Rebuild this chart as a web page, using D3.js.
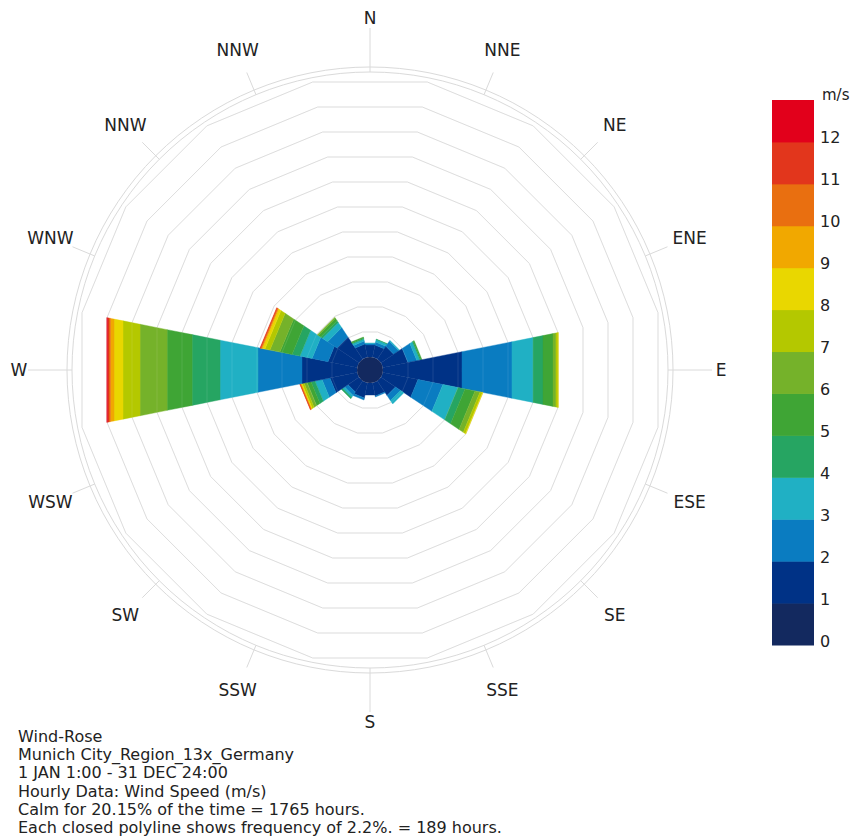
<!DOCTYPE html>
<html>
<head>
<meta charset="utf-8">
<script src="https://cdn.jsdelivr.net/npm/d3@7"></script>
<style>
  html, body { margin: 0; padding: 0; background: #ffffff; }
  svg { display: block; font-family: "DejaVu Sans", Verdana, sans-serif; }
</style>
</head>
<body>
<svg id="chart" width="854" height="840"></svg>
<script>
// ---- DATA ----
const directions = ["N","NNE","NE","ENE","E","ESE","SE","SSE","S","SSW","SW","WSW","W","WNW","NW","NNW"];
const directionLabels = ["N","NNE","NE","ENE","E","ESE","SE","SSE","S","SSW","SW","WSW","W","WNW","NNW","NNW"];
const speedTicks = ["0","1","2","3","4","5","6","7","8","9","10","11","12"];
const speedColors = ["#13295f","#003286","#0a7cc1","#20b0c4","#26a562","#3fa535","#75b22a","#b4c800","#e9d700","#f1a800","#e96f10","#e2361c","#e2001b"];
// frequency (%) per direction, one array per speed bin
const freq1to2   = [1.06,1.06,1.32,2.20,6.95,3.08,1.50,1.14,1.06,1.32,1.14,2.38,4.84,2.55,2.29,1.14];
const freq2to3   = [0.13,0.26,0.53,0.79,4.40,2.20,0.53,0.09,0.00,0.18,0.35,0.70,3.87,1.41,0.97,0.26];
const freq3to4   = [0.04,0.22,0.09,0.26,1.85,1.32,0.35,0.00,0.00,0.00,0.22,0.62,3.34,1.06,0.53,0.18];
const freq4to5   = [0.00,0.04,0.00,0.09,0.88,0.62,0.00,0.00,0.00,0.00,0.13,0.35,2.46,0.70,0.18,0.09];
const freq5to6   = [0.00,0.00,0.00,0.09,0.88,0.88,0.00,0.00,0.00,0.00,0.00,0.35,2.20,1.06,0.26,0.09];
const freq6to7   = [0.00,0.00,0.00,0.00,0.26,0.44,0.00,0.00,0.00,0.00,0.00,0.26,2.38,0.88,0.09,0.00];
const freq7to8   = [0.00,0.00,0.00,0.00,0.18,0.22,0.00,0.00,0.00,0.00,0.00,0.18,1.50,0.44,0.00,0.00];
const freq8to9   = [0.00,0.00,0.00,0.00,0.02,0.04,0.00,0.00,0.00,0.00,0.00,0.09,0.79,0.22,0.00,0.00];
const freq9to10  = [0.00,0.00,0.00,0.00,0.00,0.00,0.00,0.00,0.00,0.00,0.00,0.04,0.31,0.09,0.00,0.00];
const freq10to11 = [0.00,0.00,0.00,0.00,0.00,0.00,0.00,0.00,0.00,0.00,0.00,0.04,0.13,0.07,0.00,0.00];
const freq11to12 = [0.00,0.00,0.00,0.00,0.00,0.00,0.00,0.00,0.00,0.00,0.00,0.03,0.13,0.06,0.00,0.00];
const freq12plus = [0.00,0.00,0.00,0.00,0.00,0.00,0.00,0.00,0.00,0.00,0.00,0.00,0.07,0.00,0.00,0.00];
const ringStep = 2.2;      // % per closed polyline
const ringCount = 11;
const infoLines = [
  "Wind-Rose",
  "Munich City_Region_13x_Germany",
  "1 JAN 1:00 - 31 DEC 24:00",
  "Hourly Data: Wind Speed (m/s)",
  "Calm for 20.15% of the time = 1765 hours.",
  "Each closed polyline shows frequency of 2.2%. = 189 hours."
];

// ---- LAYOUT ----
const series = [freq1to2,freq2to3,freq3to4,freq4to5,freq5to6,freq6to7,freq7to8,freq8to9,freq9to10,freq10to11,freq11to12,freq12plus];
const svg = d3.select("#chart");
const cx = 370, cy = 370;
const calmR = 13;
const r = d3.scaleLinear().domain([0, ringStep * ringCount]).range([calmR, 288]);
const half = Math.PI / 16;              // half sector width (11.25deg)
const k = 1 / Math.cos(half);
const ang = d3.scaleLinear().domain([0, 16]).range([0, 2 * Math.PI]);
const g = svg.append("g").attr("transform", `translate(${cx},${cy})`);
const gridColor = "#dadada";

// polygon grid
const polyLine = d3.lineRadial().angle(d => d[0]).radius(d => d[1]).curve(d3.curveLinearClosed);
function ringPts(v) {
  return d3.range(16).map(j => [ang(j) + half, r(v) * k]);
}
const ringVals = d3.range(1, ringCount + 1).map(i => i * ringStep);
g.selectAll("path.ring").data(ringVals).join("path")
  .attr("class", "ring")
  .attr("d", v => polyLine(ringPts(v)))
  .attr("fill", "none").attr("stroke", gridColor).attr("stroke-width", 1);

// outer circles
[298, 303].forEach(rad => g.append("circle").attr("r", rad)
  .attr("fill", "none").attr("stroke", gridColor).attr("stroke-width", 1));

// ticks and labels
directions.forEach((d, i) => {
  const a = ang(i);
  const cardinal = i % 4 === 0;
  const r1 = 298, r2 = cardinal ? 342 : 322;
  g.append("line")
    .attr("x1", r1 * Math.sin(a)).attr("y1", -r1 * Math.cos(a))
    .attr("x2", r2 * Math.sin(a)).attr("y2", -r2 * Math.cos(a))
    .attr("stroke", gridColor).attr("stroke-width", 1);
  const lr = (i % 8 === 0) ? 352 : (i % 8 === 4 ? 351 : 346);
  g.append("text")
    .attr("x", lr * Math.sin(a)).attr("y", -lr * Math.cos(a))
    .attr("text-anchor", "middle").attr("dominant-baseline", "central")
    .attr("font-size", 17).attr("fill", "#222")
    .text(directionLabels[i]);
});

// petals
const bands = [];
directions.forEach((d, i) => {
  let cum = 0;
  series.forEach((s, b) => {
    const v = s[i];
    if (v > 0) {
      bands.push({ dir: i, bin: b + 1, from: cum, to: cum + v });
      cum += v;
    }
  });
});
function bandPts(bd) {
  const a = ang(bd.dir);
  return [[a - half, r(bd.from) * k], [a + half, r(bd.from) * k],
          [a + half, r(bd.to) * k], [a - half, r(bd.to) * k]];
}
g.selectAll("path.band").data(bands).join("path")
  .attr("class", "band")
  .attr("d", bd => polyLine(bandPts(bd)))
  .attr("fill", bd => speedColors[bd.bin])
  .attr("stroke", bd => speedColors[bd.bin]).attr("stroke-width", 0.4);

// calm circle
g.append("circle").attr("r", calmR).attr("fill", speedColors[0]);

// faint grid visible through petals
g.selectAll("path.ringover").data(ringVals).join("path")
  .attr("class", "ringover")
  .attr("d", v => polyLine(ringPts(v)))
  .attr("fill", "none").attr("stroke", "#ffffff").attr("stroke-opacity", 0.1).attr("stroke-width", 1);

// legend
const lx = 772, lw = 42;
const ly = d3.scaleLinear().domain([0, speedColors.length]).range([645, 100]);
const lg = svg.append("g");
lg.selectAll("rect").data(speedColors).join("rect")
  .attr("x", lx).attr("width", lw)
  .attr("y", (c, i) => ly(i + 1)).attr("height", (c, i) => ly(i) - ly(i + 1) + 0.5)
  .attr("fill", c => c);
lg.selectAll("text.tick").data(speedTicks).join("text")
  .attr("class", "tick")
  .attr("x", lx + lw + 6).attr("y", (t, i) => ly(i) - 4)
  .attr("dominant-baseline", "central").attr("font-size", 16).attr("fill", "#222")
  .text(t => t);
lg.append("text").attr("x", lx + lw + 8).attr("y", 95)
  .attr("dominant-baseline", "central").attr("font-size", 15).attr("fill", "#222")
  .text("m/s");

// info text
svg.selectAll("text.info").data(infoLines).join("text")
  .attr("class", "info")
  .attr("x", 18).attr("y", (t, i) => 742 + i * 18.2)
  .attr("font-size", 16).attr("fill", "#222")
  .text(t => t);
</script>
</body>
</html>
